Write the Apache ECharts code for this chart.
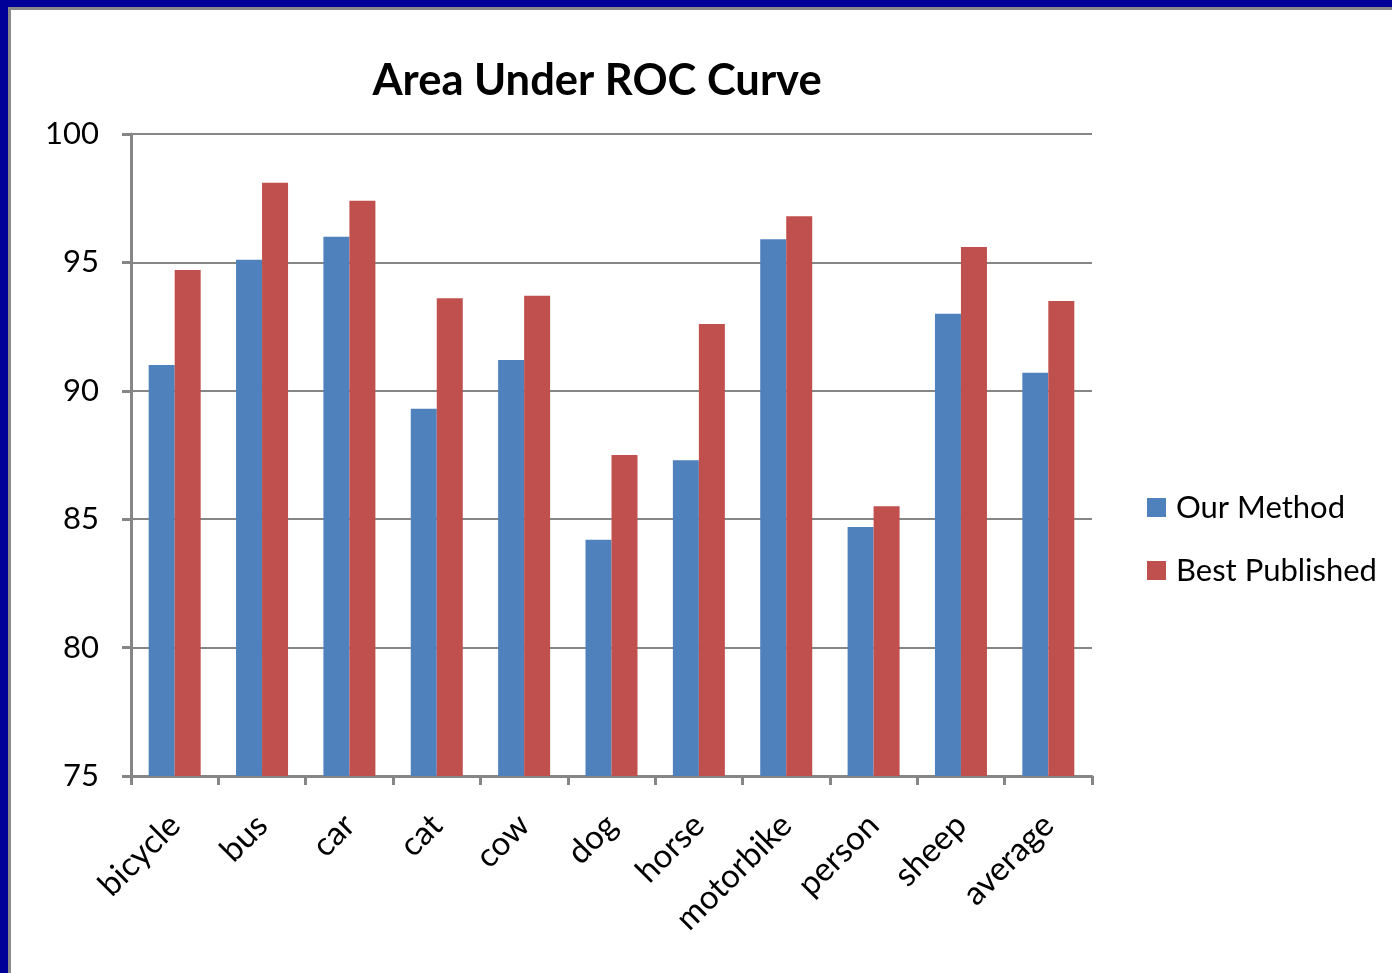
<!DOCTYPE html>
<html>
<head>
<meta charset="utf-8">
<script src="https://cdn.jsdelivr.net/npm/echarts@6/dist/echarts.min.js"></script>
<style>
html,body{margin:0;padding:0;width:1392px;height:973px;overflow:hidden;background:#000099;}
#frame{position:absolute;left:8px;top:7px;width:1400px;height:1000px;background:#fff;border-top:3px solid #8a8a8a;border-left:3px solid #8a8a8a;box-sizing:border-box;}
#chart{position:absolute;left:0;top:0;width:1392px;height:973px;}
</style>
</head>
<body>
<div id="frame"></div>
<div id="chart"></div>
<script>
const categories = ['bicycle','bus','car','cat','cow','dog','horse','motorbike','person','sheep','average'];
const ourMethod = [91.0, 95.1, 96.0, 89.3, 91.2, 84.2, 87.3, 95.9, 84.7, 93.0, 90.7];
const bestPublished = [94.7, 98.1, 97.4, 93.6, 93.7, 87.5, 92.6, 96.8, 85.5, 95.6, 93.5];
const yTicks = [75, 80, 85, 90, 95, 100];

const FONT = 'Lato, "Open Sans", sans-serif';
const chart = echarts.init(document.getElementById('chart'), null, {renderer:'canvas'});
chart.setOption({
  backgroundColor: 'transparent',
  animation: false,
  title: {
    text: 'Area Under ROC Curve',
    left: 592, top: 54, textAlign: 'center',
    textStyle: {fontFamily: FONT, fontWeight: 'bold', fontSize: 43.5, color: '#000'}
  },
  legend: {
    orient: 'vertical',
    left: 1147, top: 492, padding: 0,
    itemWidth: 19, itemHeight: 19, itemGap: 32,
    icon: 'rect',
    textStyle: {fontFamily: FONT, fontSize: 31, color: '#000', padding: [0,0,0,5]},
    data: ['Our Method', 'Best Published']
  },
  grid: {left: 131, right: 300, top: 134, bottom: 197, containLabel: false},
  xAxis: {
    type: 'category',
    data: categories,
    boundaryGap: true,
    axisLine: {lineStyle: {color: '#868686', width: 3}},
    axisTick: {show: true, length: 9, lineStyle: {color: '#868686', width: 3}, alignWithLabel: false},
    axisLabel: {rotate: 45, fontFamily: FONT, fontSize: 33, color: '#000', margin: 44, interval: 0}
  },
  yAxis: {
    type: 'value',
    min: 75, max: 100, interval: 5,
    axisLine: {show: true, lineStyle: {color: '#868686', width: 3}},
    axisTick: {show: true, length: 9, lineStyle: {color: '#868686', width: 3}},
    splitLine: {show: true, lineStyle: {color: '#868686', width: 2}},
    axisLabel: {fontFamily: FONT, fontSize: 31, color: '#000', margin: 32,
      formatter: v => yTicks.includes(v) ? String(v) : ''}
  },
  series: [
    {name: 'Our Method', type: 'bar', data: ourMethod, barWidth: 26, barGap: '0%',
     itemStyle: {color: '#4f81bd'}},
    {name: 'Best Published', type: 'bar', data: bestPublished, barWidth: 26, barGap: '0%',
     itemStyle: {color: '#c0504d'}}
  ]
});
</script>
</body>
</html>
